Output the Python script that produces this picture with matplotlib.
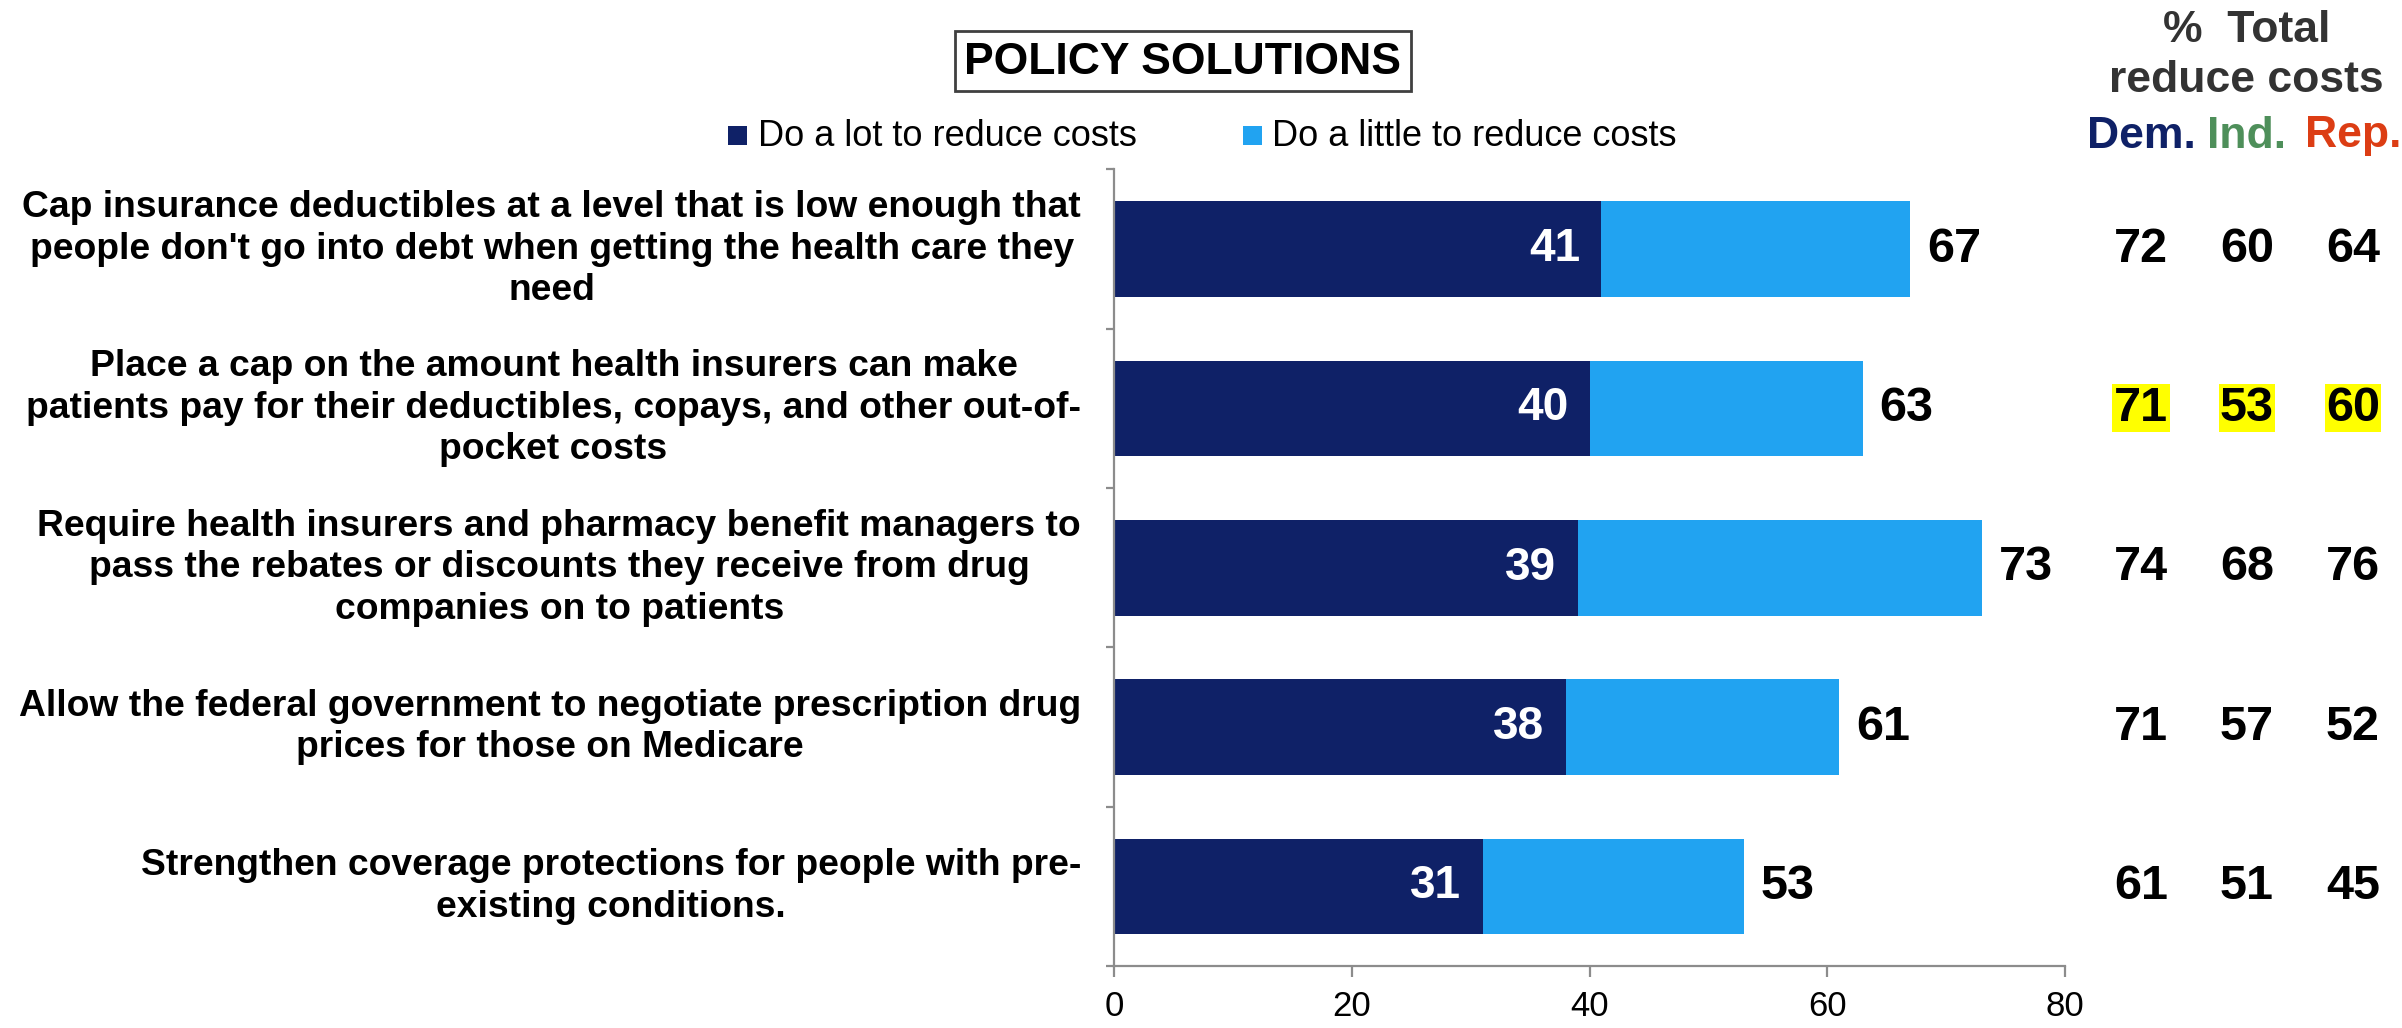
import matplotlib
matplotlib.use("Agg")
import matplotlib.pyplot as plt
from matplotlib.patches import Rectangle
from matplotlib.transforms import blended_transform_factory

plt.rcParams['font.family'] = ['Liberation Sans', 'DejaVu Sans']

# ---------------- data ----------------
categories = [
    "Cap insurance deductibles at a level that is low enough that\npeople don't go into debt when getting the health care they\nneed",
    "Place a cap on the amount health insurers can make\npatients pay for their deductibles, copays, and other out-of-\npocket costs",
    "Require health insurers and pharmacy benefit managers to\npass the rebates or discounts they receive from drug\ncompanies on to patients",
    "Allow the federal government to negotiate prescription drug\nprices for those on Medicare",
    "Strengthen coverage protections for people with pre-\nexisting conditions.",
]
do_a_lot = [41, 40, 39, 38, 31]
do_a_little = [26, 23, 34, 23, 22]
total = [67, 63, 73, 61, 53]
dem = [72, 71, 74, 71, 61]
ind = [60, 53, 68, 57, 51]
rep = [64, 60, 76, 52, 45]
highlight_row = 1
series_names = ["Do a lot to reduce costs", "Do a little to reduce costs"]
xticks = [0, 20, 40, 60, 80]

# ---------------- style ----------------
W, H = 2402, 1028
DARK = "#0F2167"
LIGHT = "#21A3F1"
AXC = "#8C8C8C"
DEMC = "#0F2167"
INDC = "#4E8F5A"
REPC = "#DC3D14"

def fx(px):
    return px / W

def fy(py):
    return 1 - py / H

fig = plt.figure(figsize=(W / 100, H / 100), dpi=100)
ax = fig.add_axes([fx(1114), fy(966), fx(2065) - fx(1114), fy(169.5) - fy(966)])

ypos = list(range(len(categories)))
b1 = ax.barh(ypos, do_a_lot, height=0.6, color=DARK, edgecolor="none")
b2 = ax.barh(ypos, do_a_little, left=do_a_lot, height=0.6, color=LIGHT, edgecolor="none")

ax.set_xlim(0, 80)
ax.set_ylim(len(categories) - 0.5, -0.5)
ax.set_xticks(xticks)
ax.set_xticklabels([str(t) for t in xticks], fontsize=25)
ax.set_yticks([i - 0.5 for i in range(len(categories) + 1)])
ax.set_yticklabels([])
for s in ["top", "right"]:
    ax.spines[s].set_visible(False)
for s in ["left", "bottom"]:
    ax.spines[s].set_color(AXC)
    ax.spines[s].set_linewidth(1.6)
ax.tick_params(axis="x", direction="out", length=8, width=1.6, color=AXC, pad=9)
ax.tick_params(axis="y", direction="out", length=6, width=1.6, color=AXC)

# bar labels
for i in ypos:
    ax.text(do_a_lot[i] - 1.8, i, str(do_a_lot[i]), ha="right", va="center",
            color="white", fontsize=33, fontweight="bold")
    ax.text(do_a_lot[i] + do_a_little[i] + 1.4, i, str(total[i]), ha="left", va="center",
            color="black", fontsize=35, fontweight="bold")

# category labels
trL = blended_transform_factory(fig.transFigure, ax.transData)
for i, lab in enumerate(categories):
    fig.text(fx(1081), i, lab, transform=trL, ha="right", va="center",
             multialignment="center", fontsize=26.8, fontweight="bold",
             linespacing=1.24, color="black")

# right-hand party columns
col_x = [2141, 2247, 2353]
for i in ypos:
    for cx, vals in zip(col_x, [dem, ind, rep]):
        kw = {}
        if i == highlight_row:
            kw["bbox"] = dict(boxstyle="square,pad=0.03", fc="#FFFF00", ec="none")
        fig.text(fx(cx), i, str(vals[i]), transform=trL, ha="center", va="center",
                 fontsize=35, fontweight="bold", color="black", **kw)

# header
fig.text(fx(2247), fy(30), "%  Total", ha="center", va="center", fontsize=32,
         fontweight="bold", color="#333333")
fig.text(fx(2246), fy(80), "reduce costs", ha="center", va="center", fontsize=32,
         fontweight="bold", color="#333333")
for cx, name, c in zip(col_x, ["Dem.", "Ind.", "Rep."], [DEMC, INDC, REPC]):
    fig.text(fx(cx), fy(136), name, ha="center", va="center", fontsize=32,
             fontweight="bold", color=c)

# title box
fig.patches.append(Rectangle((fx(955), fy(91)), fx(1411) - fx(955), fy(31) - fy(91),
                             transform=fig.transFigure, fill=False, ec="#404040", lw=2))
fig.text(fx(1183), fy(62), "POLICY SOLUTIONS", ha="center", va="center",
         fontsize=32, fontweight="bold", color="black")

# legend
for sx, tx, name, c in zip([728, 1243], [758, 1272], series_names, [DARK, LIGHT]):
    fig.patches.append(Rectangle((fx(sx), fy(145)), fx(19), 19 / H,
                                 transform=fig.transFigure, fc=c, ec="none"))
    fig.text(fx(tx), fy(136), name, ha="left", va="center", fontsize=26, color="black")

fig.savefig("out.png", dpi=100, facecolor="white")
